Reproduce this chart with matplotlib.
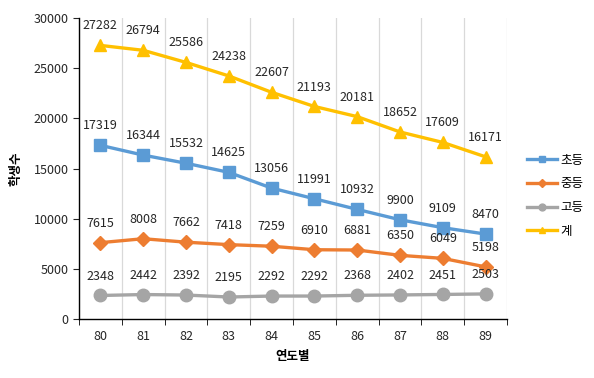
import matplotlib
matplotlib.use("Agg")
import matplotlib.pyplot as plt
import numpy as np

plt.rcParams['font.family'] = ['Noto Sans CJK KR', 'DejaVu Sans']

years = ['80', '81', '82', '83', '84', '85', '86', '87', '88', '89']
elem = [17319, 16344, 15532, 14625, 13056, 11991, 10932, 9900, 9109, 8470]
middle = [7615, 8008, 7662, 7418, 7259, 6910, 6881, 6350, 6049, 5198]
high = [2348, 2442, 2392, 2195, 2292, 2292, 2368, 2402, 2451, 2503]
total = [27282, 26794, 25586, 24238, 22607, 21193, 20181, 18652, 17609, 16171]

names = ['초등', '중등', '고등', '계']
colors = ['#5B9BD5', '#ED7D31', '#A5A5A5', '#FFC000']
markers = ['s', 'D', 'o', '^']
msizes = [9, 7.5, 9, 9]

fig = plt.figure(figsize=(5.94, 3.78), dpi=100)
ax = fig.add_axes([0.133, 0.156, 0.7205, 0.796])

x = np.arange(len(years))
series = [elem, middle, high, total]
for vals, nm, c, m, ms in zip(series, names, colors, markers, msizes):
    ax.plot(x, vals, color=c, lw=2.4, marker=m, markersize=ms, label=nm)
    for xi, v in zip(x, vals):
        ax.annotate(str(v), (xi, v), xytext=(0, 14), textcoords='offset points',
                    ha='center', va='center', fontsize=9, color='#262626')

ax.set_xlim(-0.5, len(years) - 0.5)
ax.set_ylim(0, 30000)
ax.set_yticks(np.arange(0, 30001, 5000))
ax.set_xticks(x)
ax.set_xticklabels(years)
ax.set_xticks(np.arange(-0.5, len(years), 1), minor=True)
ax.tick_params(axis='x', which='major', length=0, labelsize=9, pad=8, colors='#262626')
ax.tick_params(axis='x', which='minor', length=4, direction='out')
ax.tick_params(axis='y', length=4, labelsize=9, colors='#262626')
ax.grid(axis='x', which='minor', color='#D9D9D9', lw=0.9)
ax.set_axisbelow(True)
for s in ['top', 'right']:
    ax.spines[s].set_visible(False)
for s in ['left', 'bottom']:
    ax.spines[s].set_color('black')
    ax.spines[s].set_linewidth(1.0)

ax.set_xlabel('연도별', fontsize=9, fontweight='bold', labelpad=5)
ax.set_ylabel('학생수', fontsize=9, fontweight='bold', labelpad=8)

leg = ax.legend(loc='center left', bbox_to_anchor=(1.02, 0.41), frameon=False,
                fontsize=9, handlelength=2.4, markerscale=0.55, labelspacing=0.85,
                handletextpad=0.3)

fig.savefig('out.png', dpi=100)
